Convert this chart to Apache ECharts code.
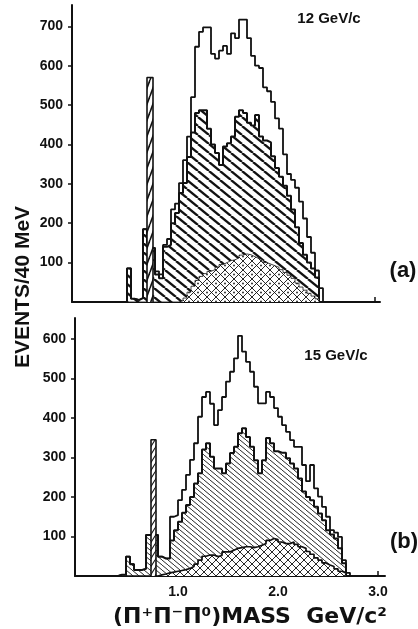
<!DOCTYPE html>
<html><head><meta charset="utf-8">
<script src="https://cdn.jsdelivr.net/npm/echarts@6/dist/echarts.min.js"></script>
<style>html,body{margin:0;padding:0;background:#fff}#c{width:418px;height:629px}</style>
</head><body><div id="c"></div>
<script>
// ---- data (events per 40 MeV bin, bins start at 0.40 GeV/c^2) ----
const binStart = 0.40;
const binWidth = 0.04;
// panel (a) 12 GeV/c
const totalA   = [0,0,0,85,8,5,10,185,150,137,78,70,145,160,235,250,302,360,420,520,648,686,697,697,630,618,638,650,630,682,670,717,717,670,625,600,594,545,535,508,466,440,375,325,310,290,255,212,165,125,80,35];
const hatchedA = [0,0,0,85,8,5,10,185,150,137,70,60,140,145,200,226,277,302,368,430,480,487,487,440,400,378,348,395,403,420,470,487,480,455,448,475,420,410,405,370,340,318,295,270,235,190,150,120,100,85,62];
const crossA   = [0,0,0,0,0,0,0,0,0,0,0,0,0,0,0,0,3,10,25,40,55,65,72,78,82,88,95,100,105,107,112,119,122,120,115,110,107,100,96,92,88,82,75,68,60,48,38,30,22,15,8];
const omegaRangeA = [0.72, 0.78];
const omegaPeakA  = [570];
// panel (b) 15 GeV/c
const totalB   = [3,3,49,30,15,15,18,104,104,104,49,44,44,150,154,192,218,256,294,336,403,453,466,436,382,420,453,492,517,551,608,568,542,517,479,437,437,466,453,425,403,382,365,344,327,327,281,240,281,222,201,175,150,116,110,99,40,8];
const hatchedB = [3,3,49,30,15,15,18,104,104,104,49,44,44,90,116,137,160,180,200,234,260,320,336,302,272,272,260,285,311,327,361,374,352,327,293,260,293,349,336,316,312,312,298,285,272,247,214,200,192,175,158,141,116,105,95,70,32];
const crossB   = [0,0,0,0,0,0,0,0,0,0,3,5,8,10,12,14,16,19,24,30,40,50,53,53,49,52,61,61,65,70,72,74,74,72,74,78,82,90,95,92,86,82,82,86,80,74,70,62,55,46,40,33,28,24,18,12,8];
const omegaRangeB = [0.73, 0.78];
const omegaPeakB  = [345];
// tick labels
const yTicksA = [100,200,300,400,500,600,700];
const yTicksB = [100,200,300,400,500,600];
const xTicks  = [1.0,2.0,3.0];

// ---- helpers ----
function stepData(values, start, width) {
  const pts = [[start, 0]];
  values.forEach((v, i) => pts.push([+(start + i * width).toFixed(4), v]));
  pts.push([+(start + values.length * width).toFixed(4), 0]);
  return pts;
}
function spikeData(range, peak) {
  return [[range[0], 0], [range[0], peak[0]], [range[1], 0]];
}
function hatch(w, h, lw, dirs, dot) {
  const c = document.createElement('canvas');
  c.width = w; c.height = h;
  const g = c.getContext('2d');
  g.fillStyle = '#fff'; g.fillRect(0, 0, w, h);
  g.strokeStyle = '#111'; g.lineWidth = lw;
  for (const d of dirs) for (const o of [-w, 0, w]) {
    g.beginPath();
    if (d === '\\') { g.moveTo(o, 0); g.lineTo(o + w, h); }
    else { g.moveTo(o, h); g.lineTo(o + w, 0); }
    g.stroke();
  }
  if (dot) {
    g.fillStyle = '#111';
    g.fillRect(-dot / 2, h / 2 - dot / 2, dot, dot);
    g.fillRect(w - dot / 2, h / 2 - dot / 2, dot, dot);
  }
  return { image: c, repeat: 'repeat' };
}
const patHatchA = hatch(11, 9, 2.3, ['\\']);
const patCrossA = hatch(9, 9, 0.9, ['\\', '/'], 1.6);
const patSpikeA = hatch(6, 16, 1.6, ['/']);
const patHatchB = hatch(6, 5, 0.9, ['\\']);
const patCrossB = hatch(8, 8, 0.9, ['\\', '/']);
const patSpikeB = hatch(5, 8, 1.1, ['/']);

const INK = '#111';
const labelFont = { color: INK, fontFamily: 'Liberation Sans', fontWeight: 'bold', fontSize: 14 };

function xAxisDef(grid, max, showLabels, tickVals) {
  return {
    type: 'value', gridIndex: grid, min: -0.03, max: max,
    axisLine: { show: true, onZero: false, lineStyle: { color: INK, width: 2 } },
    axisTick: { show: true, inside: true, length: 5, customValues: tickVals, lineStyle: { color: INK, width: 1.5 } },
    axisLabel: Object.assign({ show: showLabels, margin: 9, customValues: xTicks, formatter: v => v.toFixed(1) }, labelFont),
    splitLine: { show: false }
  };
}
function yAxisDef(grid, max, ticks) {
  return {
    type: 'value', gridIndex: grid, min: 0, max: max,
    axisLine: { show: true, onZero: false, lineStyle: { color: INK, width: 2 } },
    axisTick: { show: true, inside: false, length: 4, customValues: ticks, lineStyle: { color: INK, width: 1.5 } },
    axisLabel: Object.assign({ margin: 9, customValues: ticks }, labelFont),
    splitLine: { show: false }
  };
}
function lineSeries(idx, data, lw, fill, z) {
  const s = {
    type: 'line', xAxisIndex: idx, yAxisIndex: idx, data: data, step: 'end',
    symbol: 'none', silent: true, z: z,
    lineStyle: { color: INK, width: lw }
  };
  if (fill) s.areaStyle = { color: fill, opacity: 1 };
  return s;
}

const chart = echarts.init(document.getElementById('c'), null, { renderer: 'canvas' });
chart.setOption({
  animation: false,
  backgroundColor: '#fff',
  grid: [
    { left: 72, top: 5, width: 308, height: 297, containLabel: false, outerBoundsMode: 'none' },
    { left: 75, top: 318, width: 310, height: 258, containLabel: false, outerBoundsMode: 'none' }
  ],
  xAxis: [ xAxisDef(0, 3.05, false, [3.0]), xAxisDef(1, 3.07, true, xTicks) ],
  yAxis: [ yAxisDef(0, 754, yTicksA), yAxisDef(1, 653, yTicksB) ],
  series: [
    lineSeries(0, stepData(totalA, binStart, binWidth), 1.8, null, 2),
    lineSeries(0, stepData(hatchedA, binStart, binWidth), 2, patHatchA, 3),
    lineSeries(0, stepData(crossA, binStart, binWidth), 0.8, patCrossA, 4),
    lineSeries(0, spikeData(omegaRangeA, omegaPeakA), 1.6, patSpikeA, 5),
    lineSeries(1, stepData(totalB, binStart, binWidth), 1.8, null, 2),
    lineSeries(1, stepData(hatchedB, binStart, binWidth), 2, patHatchB, 3),
    lineSeries(1, stepData(crossB, binStart, binWidth), 1.7, patCrossB, 4),
    lineSeries(1, spikeData(omegaRangeB, omegaPeakB), 1.6, patSpikeB, 5)
  ],
  graphic: [
    { type: 'text', x: 329, y: 19, style: { text: '12 GeV/c', fill: INK, fontFamily: 'Liberation Sans', fontWeight: 'bold', fontSize: 15, align: 'center', verticalAlign: 'middle' } },
    { type: 'text', x: 336, y: 356, style: { text: '15 GeV/c', fill: INK, fontFamily: 'Liberation Sans', fontWeight: 'bold', fontSize: 15, align: 'center', verticalAlign: 'middle' } },
    { type: 'text', x: 403, y: 271, style: { text: '(a)', fill: INK, fontFamily: 'Liberation Sans', fontWeight: 'bold', fontSize: 22, align: 'center', verticalAlign: 'middle' } },
    { type: 'text', x: 404, y: 542, style: { text: '(b)', fill: INK, fontFamily: 'Liberation Sans', fontWeight: 'bold', fontSize: 22, align: 'center', verticalAlign: 'middle' } },
    { type: 'text', x: 23, y: 287, rotation: Math.PI / 2, style: { text: 'EVENTS/40 MeV', fill: INK, fontFamily: 'Liberation Sans', fontWeight: 'bold', fontSize: 21, align: 'center', verticalAlign: 'middle' } },
    { type: 'text', x: 250, y: 617, style: { text: '(Π⁺Π⁻Π⁰)MASS  GeV/c²', fill: INK, fontFamily: 'DejaVu Sans', fontWeight: 'bold', fontSize: 22, align: 'center', verticalAlign: 'middle' } }
  ]
});
</script>
</body></html>
